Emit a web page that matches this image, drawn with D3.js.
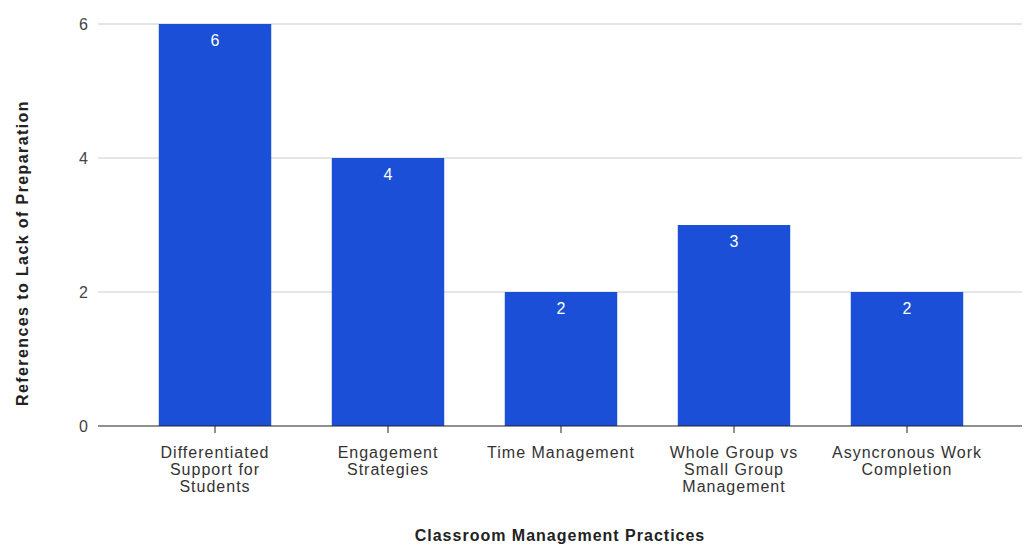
<!DOCTYPE html>
<html>
<head>
<meta charset="utf-8">
<script src="https://cdn.jsdelivr.net/npm/d3@7"></script>
<style>
  html, body { margin: 0; padding: 0; background: #fff; }
  svg { display: block; font-family: "Liberation Sans", Arial, sans-serif; }
</style>
</head>
<body>
<svg id="chart" width="1026" height="559"></svg>
<script>
// Classroom management practices and how often each was cited
const categories = [
  ["Differentiated", "Support for", "Students"],
  ["Engagement", "Strategies"],
  ["Time Management"],
  ["Whole Group vs", "Small Group", "Management"],
  ["Asyncronous Work", "Completion"]
];
const references = [6, 4, 2, 3, 2];
const yTicks = [0, 2, 4, 6];
const xTitle = "Classroom Management Practices";
const yTitle = "References to Lack of Preparation";

const svg = d3.select("#chart");
const plot = { left: 98, right: 1022, top: 24, bottom: 426 };
const bandLeft = 128.5, bandRight = 993.5;

const x = d3.scaleBand()
  .domain(d3.range(categories.length))
  .range([bandLeft, bandRight])
  .paddingInner(0.35)
  .paddingOuter(0.175);

const y = d3.scaleLinear().domain([0, 6]).range([plot.bottom, plot.top]);

// Horizontal gridlines
svg.append("g")
  .selectAll("line")
  .data(yTicks.filter(d => d !== 0))
  .join("line")
  .attr("x1", plot.left).attr("x2", plot.right)
  .attr("y1", d => y(d)).attr("y2", d => y(d))
  .attr("stroke", "#cccccc").attr("stroke-width", 1);

// Y tick labels
svg.append("g")
  .selectAll("text")
  .data(yTicks)
  .join("text")
  .attr("x", 88).attr("y", d => y(d))
  .attr("dy", "0.35em")
  .attr("text-anchor", "end")
  .attr("font-size", 16)
  .attr("fill", "#444")
  .text(d => d);

// Bars
svg.append("g")
  .selectAll("rect")
  .data(references)
  .join("rect")
  .attr("x", (d, i) => x(i))
  .attr("y", d => y(d))
  .attr("width", x.bandwidth())
  .attr("height", d => y(0) - y(d))
  .attr("fill", "#1b4fd8");

// Value labels inside bar tops
svg.append("g")
  .selectAll("text")
  .data(references)
  .join("text")
  .attr("x", (d, i) => x(i) + x.bandwidth() / 2)
  .attr("y", d => y(d) + 22)
  .attr("text-anchor", "middle")
  .attr("font-size", 16)
  .attr("fill", "#ffffff")
  .text(d => d);

// Baseline
svg.append("line")
  .attr("x1", plot.left).attr("x2", plot.right)
  .attr("y1", y(0)).attr("y2", y(0))
  .attr("stroke", "#222").attr("stroke-width", 1.2);

// Category ticks and labels
const xg = svg.append("g")
  .selectAll("g")
  .data(categories)
  .join("g")
  .attr("transform", (d, i) => `translate(${x(i) + x.bandwidth() / 2},${y(0)})`);

xg.append("line")
  .attr("y1", 0).attr("y2", 7)
  .attr("stroke", "#222");

xg.append("text")
  .attr("text-anchor", "middle")
  .attr("font-size", 16)
  .attr("letter-spacing", 1)
  .attr("fill", "#333")
  .selectAll("tspan")
  .data(d => d)
  .join("tspan")
  .attr("x", 0)
  .attr("y", (d, i) => 32 + i * 17)
  .text(d => d);

// Axis titles
svg.append("text")
  .attr("x", 560).attr("y", 541)
  .attr("text-anchor", "middle")
  .attr("font-size", 16)
  .attr("letter-spacing", 1)
  .attr("font-weight", "bold")
  .attr("fill", "#222")
  .text(xTitle);

svg.append("text")
  .attr("transform", "translate(28,253) rotate(-90)")
  .attr("text-anchor", "middle")
  .attr("font-size", 16)
  .attr("letter-spacing", 1.4)
  .attr("font-weight", "bold")
  .attr("fill", "#222")
  .text(yTitle);
</script>
</body>
</html>
